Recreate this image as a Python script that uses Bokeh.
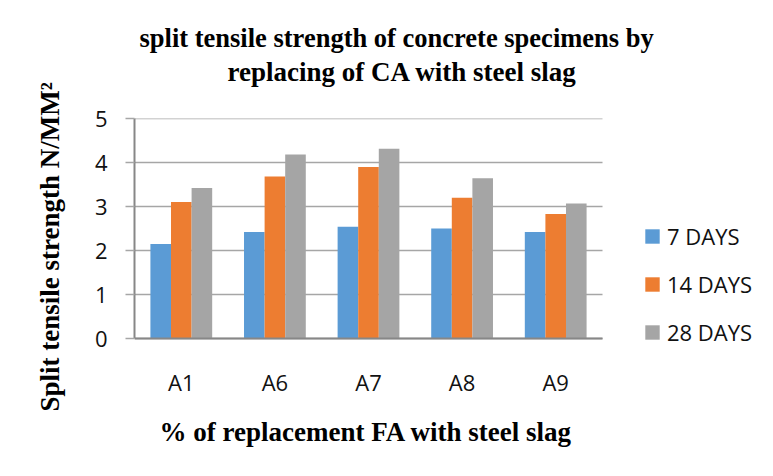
from bokeh.plotting import figure
from bokeh.models import (ColumnDataSource, Range1d, Title, Legend,
                          LegendItem, FixedTicker)
from bokeh.transform import dodge
from bokeh.embed import file_html
from bokeh.resources import INLINE

# ---- data ----
categories = ["A1", "A6", "A7", "A8", "A9"]
days_7 = [2.15, 2.42, 2.54, 2.50, 2.42]
days_14 = [3.10, 3.68, 3.90, 3.20, 2.83]
days_28 = [3.42, 4.18, 4.31, 3.64, 3.07]
series_names = ["7 DAYS", "14 DAYS", "28 DAYS"]
y_ticks = [0, 1, 2, 3, 4, 5]

title_line1 = "split tensile strength of concrete specimens by"
title_line2 = "replacing of CA with steel slag"
y_label = "Split tensile strength N/MM\u00b2"
x_label = "% of replacement  FA with steel slag"

colors = ["#5B9BD5", "#ED7D31", "#A5A5A5"]
SANS = "Open Sans"
SERIF = "Liberation Serif"
AXIS_GRAY = "#878787"
GRID_GRAY = "#a6a6a6"
TXT = "#111111"

# ---- layout ----
W, H = 757, 468
F_LEFT, F_RIGHT_BARS, F_TOP, AXIS_Y = 134, 602, 118, 338
F_RIGHT = W - 5
F_BOTTOM = 400            # frame extends below the x axis (room for legend / tick labels)
n = len(categories)
x_pos = list(range(n))
x_start = -0.5
x_end = x_start + n * (F_RIGHT - F_LEFT) / (F_RIGHT_BARS - F_LEFT)
y_top = 5.0
y_start = -y_top * (F_BOTTOM - AXIS_Y) / (AXIS_Y - F_TOP)

src = ColumnDataSource(dict(x=x_pos, cat=categories, d7=days_7, d14=days_14, d28=days_28))

p = figure(width=W, height=H, title=None,
           x_range=Range1d(x_start, x_end), y_range=Range1d(y_start, y_top),
           output_backend="svg", toolbar_location=None,
           min_border_left=F_LEFT, min_border_right=W - F_RIGHT,
           min_border_top=F_TOP, min_border_bottom=H - F_BOTTOM)
p.outline_line_color = None
p.background_fill_color = "white"
p.border_fill_color = "white"

# horizontal grid lines spanning only the category area
p.segment(x0=[x_start] * len(y_ticks), x1=[x_start + n] * len(y_ticks),
          y0=y_ticks, y1=y_ticks, line_color=GRID_GRAY, line_width=1.3)

bw = 0.22
renderers = []
for col, off, c in zip(["d7", "d14", "d28"], [-bw, 0.0, bw], colors):
    r = p.vbar(x=dodge("x", off), top=col, width=bw,
               source=src, fill_color=c, line_color=None)
    renderers.append(r)

# axes
p.xgrid.grid_line_color = None
p.ygrid.grid_line_color = None

p.yaxis.ticker = FixedTicker(ticks=y_ticks)
p.yaxis.bounds = (0, y_top)
p.yaxis.axis_line_color = AXIS_GRAY
p.yaxis.axis_line_width = 2
p.yaxis.major_tick_in = 0
p.yaxis.major_tick_out = 9
p.yaxis.major_tick_line_color = GRID_GRAY
p.yaxis.major_tick_line_width = 1.3
p.yaxis.minor_tick_line_color = None
p.yaxis.major_label_standoff = 18
p.yaxis.major_label_text_font = SANS
p.yaxis.major_label_text_font_size = "22px"
p.yaxis.major_label_text_color = TXT

p.xaxis.fixed_location = 0
p.xaxis.ticker = FixedTicker(ticks=x_pos)
p.xaxis.major_label_overrides = {i: c for i, c in zip(x_pos, categories)}
p.xaxis.bounds = (x_start, x_start + n)
p.xaxis.axis_line_color = AXIS_GRAY
p.xaxis.axis_line_width = 2
p.xaxis.major_tick_line_color = None
p.xaxis.minor_tick_line_color = None
p.xaxis.major_label_standoff = 22
p.xaxis.major_label_text_font = SANS
p.xaxis.major_label_text_font_size = "22px"
p.xaxis.major_label_text_color = TXT

# legend (inside the wide frame, to the right of the bars)
legend = Legend(items=[LegendItem(label=s, renderers=[r]) for s, r in zip(series_names, renderers)],
                location=(509, F_BOTTOM - AXIS_Y - 9), orientation="vertical",
                glyph_width=18, glyph_height=18, label_standoff=6,
                label_height=30, spacing=18,
                padding=0, margin=0, border_line_color=None, background_fill_alpha=0,
                label_text_font=SANS, label_text_font_size="22px", label_text_color=TXT)
p.add_layout(legend)

# titles and axis titles
tstyle = dict(text_font=SERIF, text_font_style="bold", text_color="#000000")
p.add_layout(Title(text=" ", standoff=0, text_font=SERIF, text_font_size="26px"), "above")
p.add_layout(Title(text=title_line2, align="left", offset=93, standoff=2,
                   text_font_size="27px", **tstyle), "above")
p.add_layout(Title(text=title_line1, align="left", offset=5, standoff=2,
                   text_font_size="26.5px", **tstyle), "above")
p.add_layout(Title(text=y_label, align="left", offset=-(408 - F_BOTTOM) - 3,
                   standoff=54, text_font_size="27px", **tstyle), "left")
p.add_layout(Title(text=x_label, align="left", offset=25, standoff=32,
                   vertical_align="top", text_font_size="27px", **tstyle), "below")

open("out.html", "w").write(file_html(p, INLINE))
